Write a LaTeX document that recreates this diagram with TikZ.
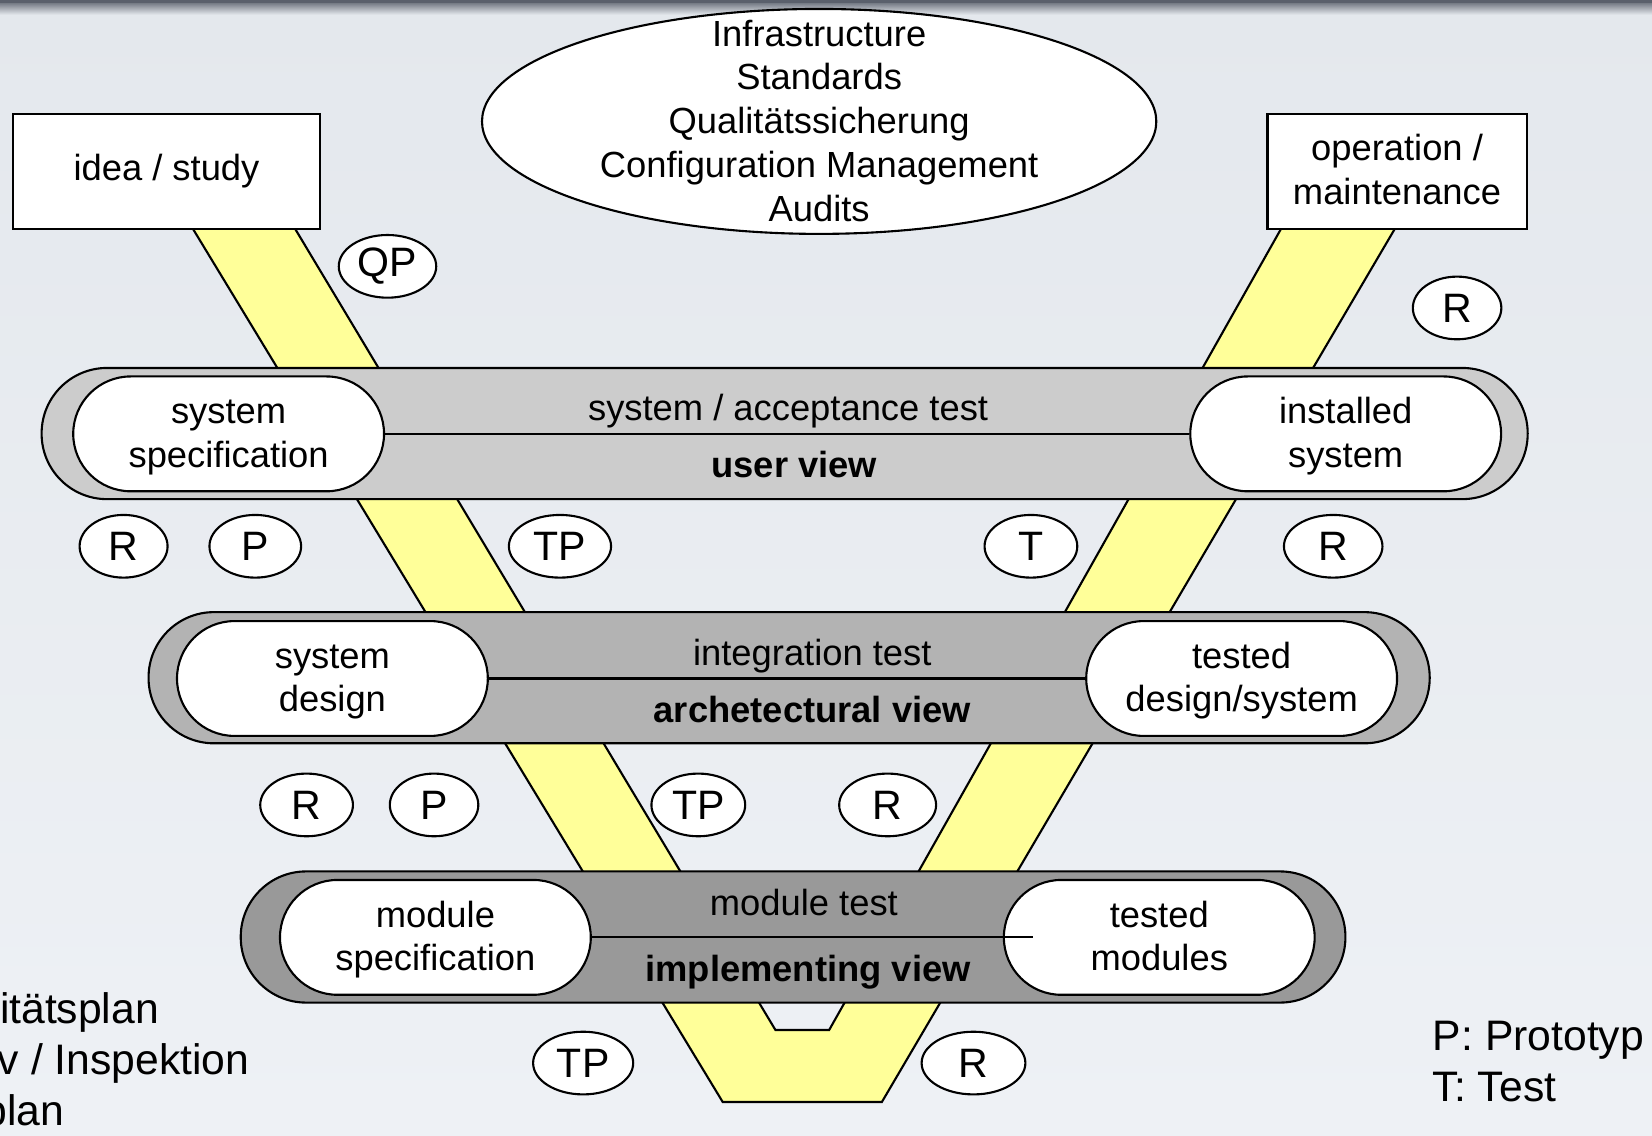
\documentclass[tikz,border=0pt]{standalone}
\usepackage{fontspec}
\setmainfont{Liberation Sans}
\usetikzlibrary{shapes.geometric}
\definecolor{bgtop}{RGB}{228,232,237}
\definecolor{bgbot}{RGB}{238,241,245}
\definecolor{topline}{RGB}{90,96,108}
\definecolor{vyellow}{RGB}{255,255,153}
\definecolor{bandA}{RGB}{204,204,204}
\definecolor{bandB}{RGB}{179,179,179}
\definecolor{bandC}{RGB}{153,153,153}
\newcommand\myts{\rule{0pt}{30pt}}
\newcommand\mybs{\rule[-8pt]{0pt}{8pt}}
\begin{document}
\begin{tikzpicture}[x=1pt,y=-1pt,line width=2pt,
 txt/.style={font=\fontsize{34.5}{41.5}\selectfont,align=center,inner sep=0},
 boldtxt/.style={font=\fontsize{34.5}{41.5}\selectfont\bfseries,inner sep=0},
 boxnode/.style={draw,fill=white,rectangle,minimum width=#1,minimum height=109,inner sep=0,txt},
 pill/.style={draw,fill=white,rectangle,rounded corners=54.5,minimum width=295,minimum height=109,inner sep=0,txt},
 band/.style={draw,rectangle,rounded corners=62,minimum width=#1,minimum height=124.5,inner sep=0},
 lab/.style={draw,fill=white,ellipse,inner sep=0,minimum width=#1,minimum height=59.5,font=\fontsize{39}{44}\selectfont},
 legend/.style={font=\fontsize{40.5}{48}\selectfont,inner sep=0,anchor=base west}]
\useasboundingbox (0,0) rectangle (1568,1078);
\clip (0,0) rectangle (1568,1078);
\shade[top color=bgtop,bottom color=bgbot] (0,0) rectangle (1568,1078);
\shade[top color=topline,bottom color=bgtop] (0,0) rectangle (1568,14);
\fill[topline] (0,0) rectangle (1568,3);

% yellow V
\draw[fill=vyellow] (183,217) -- (280,217) -- (736,977.6) -- (787,977.6) -- (1216,217) -- (1324,217) -- (837,1046) -- (686,1046) -- cycle;

% top boxes
\node[boxnode=292] (idea) at (158,162.5) {idea / study};
\node[boxnode=246] (oper) at (1326,162.5) {\myts operation /\\maintenance\mybs};
\node[draw,fill=white,ellipse,inner sep=0,minimum width=640,minimum height=213.5] (infra) at (777.5,115.25) {};
\node[txt] (infratext) at (777.5,114.5) {Infrastructure\\Standards\\Qualitätssicherung\\Configuration Management\\Audits};

% user view band
\node[band=1410.5,fill=bandA] (uband) at (744.75,411.5) {};
\node[pill] (sysspec) at (217,411.8) {\myts system\\specification\mybs};
\node[pill] (instsys) at (1277.25,411.8) {\myts installed\\system\mybs};
\draw (sysspec.east) -- (instsys.west);
\node[txt,anchor=base] (acctest) at (748,399.5) {system / acceptance test};
\node[boldtxt,anchor=base] (userview) at (754,453.5) {user view};

% architectural view band
\node[band=1216,fill=bandB] (aband) at (749,643.25) {};
\node[pill] (sysdes) at (315.5,644) {\myts system\\design\mybs};
\node[pill] (testdes) at (1178.5,644) {\myts tested\\design/system\mybs};
\draw (sysdes.east) -- (testdes.west);
\node[txt,anchor=base] (inttest) at (771,632) {integration test};
\node[boldtxt,anchor=base] (archview) at (771,685.5) {archetectural view};

% implementing view band
\node[band=1048.5,fill=bandC] (iband) at (752.75,889.35) {};
\node[pill] (modspec) at (413.25,889.7) {\myts module\\specification\mybs};
\node[pill] (testmod) at (1100.3,889.7) {\myts tested\\modules\mybs};
\draw (modspec.east) -- ([xshift=29pt]testmod.west);
\node[txt,anchor=base] (modtest) at (763,868.5) {module test};
\node[boldtxt,anchor=base] (implview) at (767,932) {implementing view};

% labels
\node[lab=92.5] (qp) at (367.8,252.8) {QP};
\node[lab=84] (r1) at (1383,292.3) {R};
\node[lab=83.5] (r2) at (117.3,518.5) {R};
\node[lab=87] (p1) at (242.3,518.5) {P};
\node[lab=97] (tp1) at (531.5,518.5) {TP};
\node[lab=88] (t1) at (978.5,518.5) {T};
\node[lab=93.5] (r3) at (1265.4,518.5) {R};
\node[lab=88] (r4) at (291,764) {R};
\node[lab=84] (p2) at (412,764) {P};
\node[lab=89] (tp2) at (662.8,764) {TP};
\node[lab=92] (r5) at (842.5,764) {R};
\node[lab=95] (tp3) at (553.5,1009) {TP};
\node[lab=98.5] (r6) at (924,1009) {R};

% legends
\node[legend] (lg1) at (-1,971) {itätsplan};
\node[legend] (lg2) at (-3,1020) {v / Inspektion};
\node[legend] (lg3) at (-16.5,1068) {plan};
\node[legend] (lg4) at (1359,996.6) {P: Prototyp};
\node[legend] (lg5) at (1359,1045.6) {T: Test};
\end{tikzpicture}
\end{document}
